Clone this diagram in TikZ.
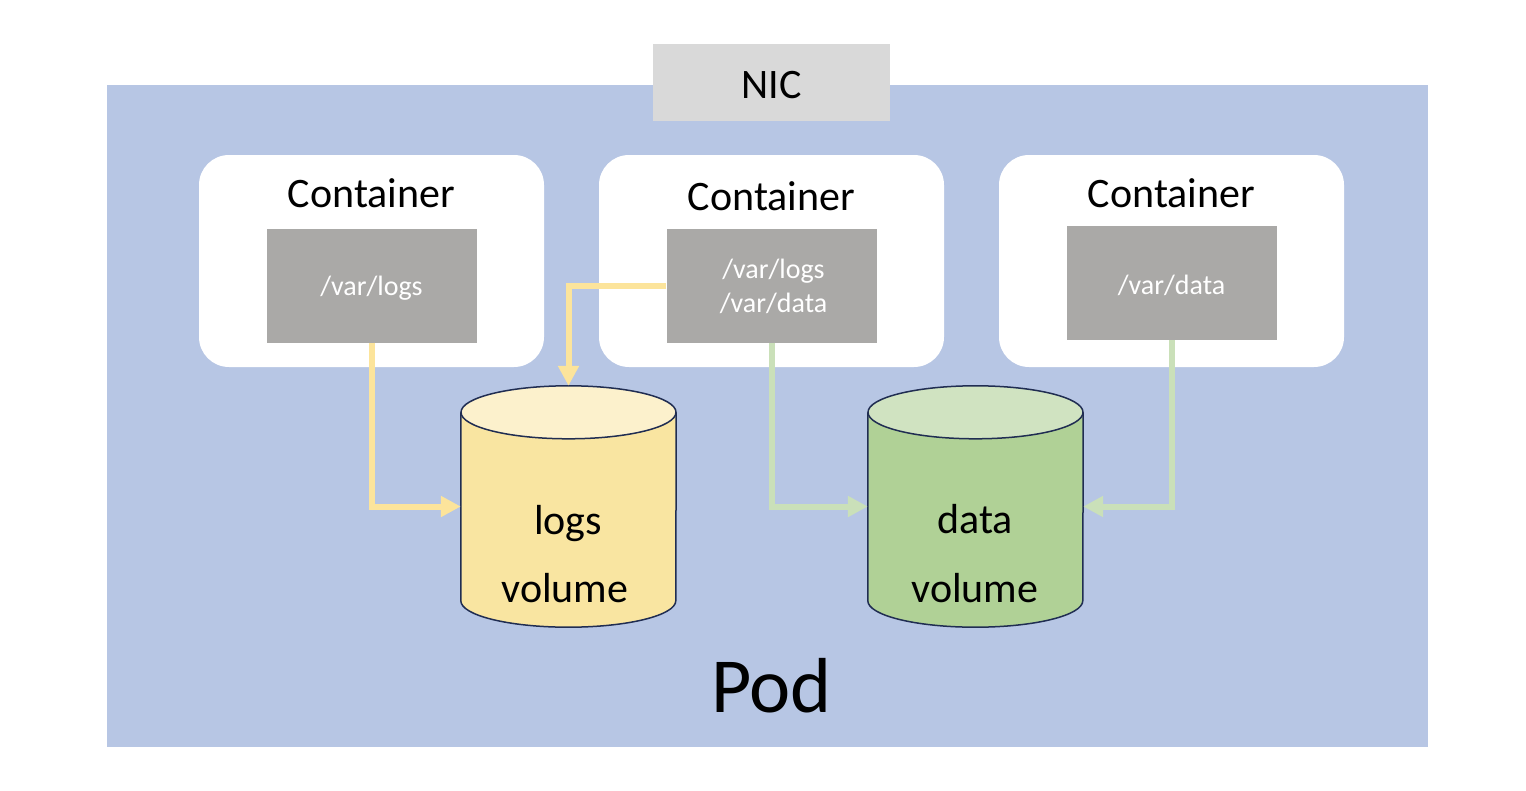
\documentclass[tikz,border=0pt]{standalone}
\usepackage{fontspec}
\setmainfont{Carlito}
\usetikzlibrary{arrows.meta}
\definecolor{podblue}{RGB}{183,198,228}
\definecolor{nicgrey}{RGB}{217,217,217}
\definecolor{boxgrey}{RGB}{170,169,167}
\definecolor{ylwline}{RGB}{252,228,155}
\definecolor{ylwbody}{RGB}{249,229,161}
\definecolor{ylwtop}{RGB}{252,241,204}
\definecolor{grnline}{RGB}{202,224,185}
\definecolor{grnbody}{RGB}{176,209,150}
\definecolor{grntop}{RGB}{208,227,193}
\definecolor{cylline}{RGB}{32,45,82}
\tikzset{
  container/.style={fill=white, rounded corners=30pt, minimum width=345pt, minimum height=212pt, inner sep=0pt},
  pathbox/.style={fill=boxgrey, minimum width=210pt, minimum height=114pt, inner sep=0pt, text=white, font=\fontsize{28}{34}\selectfont, align=center},
  bigtext/.style={font=\fontsize{42}{50}\selectfont, inner sep=0pt},
  vol/.style={minimum width=215pt, minimum height=241pt, inner sep=0pt},
  cylborder/.style={draw=cylline, line width=1.5pt},
  link/.style={line width=6pt, -{Triangle[length=20pt,width=20pt]}},
}
\newcommand{\volcyl}[3]{%
  \fill[#2] ([yshift=-26.5pt]#1.north west) -- ([yshift=26.5pt]#1.south west)
    arc[start angle=180, end angle=360, x radius=107.5pt, y radius=26.5pt]
    -- ([yshift=-26.5pt]#1.north east) -- cycle;
  \draw[cylborder] ([yshift=-26.5pt]#1.north west) -- ([yshift=26.5pt]#1.south west)
    arc[start angle=180, end angle=360, x radius=107.5pt, y radius=26.5pt]
    -- ([yshift=-26.5pt]#1.north east);
  \filldraw[cylborder, fill=#3] ([yshift=-26.5pt]#1.north) ellipse [x radius=107.5pt, y radius=26.5pt];
}
\begin{document}
\begin{tikzpicture}[x=1pt,y=-1pt]
\useasboundingbox (0,0) rectangle (1526,790);
\fill[white] (0,0) rectangle (1526,790);
\node[fill=podblue, minimum width=1321pt, minimum height=662pt, inner sep=0pt] (pod) at (767.5,416) {};
\node[fill=nicgrey, minimum width=237pt, minimum height=77pt, inner sep=0pt] (nic) at (771.5,82.5) {};
\node[bigtext] (nictext) at (771.5,85) {NIC};
\node[container] (c1) at (371.5,261) {};
\node[container] (c2) at (771.5,261) {};
\node[container] (c3) at (1171.5,261) {};
\node[bigtext, anchor=base] (c1t) at (371.5,207) {Container};
\node[bigtext, anchor=base] (c2t) at (771.5,210) {Container};
\node[bigtext, anchor=base] (c3t) at (1171.5,207) {Container};
\node[pathbox] (g1) at (371.5,285.5) {};
\node[pathbox] (g2) at (771.5,285.5) {};
\node[pathbox] (g3) at (1171.5,283) {};
\node[pathbox, fill=none, minimum width=0pt, minimum height=0pt] (g1t) at (371.5,288) {/var/logs};
\node[pathbox, fill=none, minimum width=0pt, minimum height=0pt] (g2t) at (773.5,286) {/var/logs\\/var/data};
\node[pathbox, fill=none, minimum width=0pt, minimum height=0pt] (g3t) at (1171.5,285) {/var/data};
\node[vol] (logs) at (568.5,506.5) {};
\node[vol] (data) at (975.5,506.5) {};
\volcyl{logs}{ylwbody}{ylwtop}
\volcyl{data}{grnbody}{grntop}
\node[bigtext, anchor=base] (logs1) at (568,534) {logs};
\node[bigtext, anchor=base] (logs2) at (565,602) {volume};
\node[bigtext, anchor=base] (data1) at (975,533) {data};
\node[bigtext, anchor=base] (data2) at (975,602) {volume};
\node[font=\fontsize{78}{90}\selectfont, inner sep=0pt, anchor=base] (podt) at (771.5,712) {Pod};
\draw[link, ylwline] (g1.south) |- (logs.west);
\draw[link, ylwline] (g2.west) -| (logs.north);
\draw[link, grnline] (g2.south) |- (data.west);
\draw[link, grnline] (g3.south) |- (data.east);
\end{tikzpicture}
\end{document}
